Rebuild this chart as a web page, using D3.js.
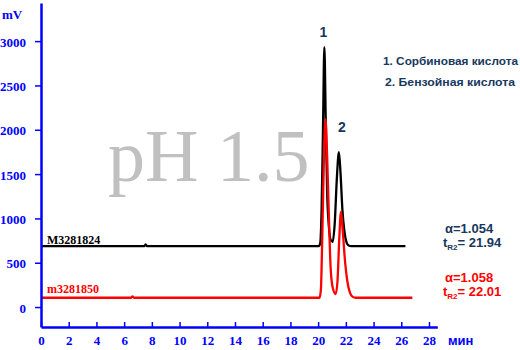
<!DOCTYPE html>
<html><head><meta charset="utf-8">
<script src="https://cdn.jsdelivr.net/npm/d3@7"></script>
<style>body{margin:0;background:#fff;} svg{display:block;}</style>
</head><body>
<svg id="c" width="520" height="350"></svg>
<script>
// ---- data ----
const blackTime   = [0, 7.45, 7.55, 7.65, 20.05, 20.15, 20.25, 20.35, 20.45, 20.55, 20.65, 20.78, 20.9, 21.05, 21.2, 21.35, 21.5, 21.62, 21.75, 21.9, 22.05, 22.2, 22.4, 26.3];
const blackSignal = [688, 688, 708, 688, 688, 720, 1100, 2000, 2932, 2100, 1300, 900, 760, 735, 950, 1450, 1748, 1500, 1100, 850, 730, 695, 688, 688];
const redTime     = [0, 6.5, 6.6, 6.7, 20.1, 20.2, 20.3, 20.42, 20.53, 20.65, 20.78, 20.9, 21.05, 21.27, 21.4, 21.52, 21.65, 21.78, 21.95, 22.1, 22.3, 22.5, 22.7, 26.8];
const redSignal   = [105, 105, 120, 105, 105, 200, 800, 1700, 2120, 1700, 1000, 450, 220, 147, 300, 750, 1075, 850, 500, 300, 160, 115, 105, 105];
const xTicks = [0, 2, 4, 6, 8, 10, 12, 14, 16, 18, 20, 22, 24, 26, 28];
const yTicks = [0, 500, 1000, 1500, 2000, 2500, 3000];
const blackName = "M3281824";
const redName = "m3281850";
const peakLabels = ["1", "2"];
const legendLines = ["1. Сорбиновая кислота", "2. Бензойная  кислота"];
const blackAlpha = "1.054", blackTR2 = "21.94";
const redAlpha = "1.058", redTR2 = "22.01";
const title = "pH 1.5";

const svg = d3.select("#c");
const x = d3.scaleLinear().domain([0, 28.6]).range([41, 437.3]);
const y = d3.scaleLinear().domain([-225, 3430]).range([327, 3]);
const blue = "#0000ff", navy = "#17375e";

// watermark
svg.append("text").attr("x", 108).attr("y", 181)
  .attr("font-family", "Liberation Serif").attr("font-size", 74)
  .attr("fill", "#c0c0c0").text(title);

// traces
const line = d3.line().curve(d3.curveMonotoneX);
const blackPts = blackTime.map((t, i) => [x(t), y(blackSignal[i])]);
const redPts = redTime.map((t, i) => [x(t), y(redSignal[i])]);
svg.append("path").attr("d", line(blackPts)).attr("fill", "none")
  .attr("stroke", "#000").attr("stroke-width", 2.3).attr("stroke-linejoin", "round");
svg.append("path").attr("d", line(redPts)).attr("fill", "none")
  .attr("stroke", "#ff0000").attr("stroke-width", 2.3).attr("stroke-linejoin", "round");

// axes
const gy = svg.append("g").attr("transform", "translate(41,0)")
  .call(d3.axisLeft(y).tickValues(yTicks).tickSizeInner(6).tickSizeOuter(0).tickPadding(9).tickFormat(d3.format("d")));
const gx = svg.append("g").attr("transform", "translate(0,327)")
  .call(d3.axisBottom(x).tickValues(xTicks).tickSizeInner(-5).tickSizeOuter(0).tickPadding(9).tickFormat(d3.format("d")));
[gy, gx].forEach(g => {
  g.select(".domain").attr("stroke", blue).attr("stroke-width", 2.5);
  g.selectAll(".tick line").attr("stroke", blue).attr("stroke-width", 1.5);
  g.selectAll(".tick text").attr("fill", blue).attr("font-family", "Liberation Serif")
    .attr("font-weight", "bold").attr("font-size", 13);
});
gy.selectAll(".tick text").attr("dy", "0.4em");

svg.append("text").attr("x", 2).attr("y", 19).attr("fill", blue)
  .attr("font-family", "Liberation Serif").attr("font-weight", "bold").attr("font-size", 13).text("mV");
svg.append("text").attr("x", 448).attr("y", 345).attr("fill", blue)
  .attr("font-family", "Liberation Sans").attr("font-weight", "bold").attr("font-size", 13).text("мин");

// trace names
svg.append("text").attr("x", 47).attr("y", 244).attr("fill", "#000")
  .attr("font-family", "Liberation Serif").attr("font-weight", "bold").attr("font-size", 12).text(blackName);
svg.append("text").attr("x", 47).attr("y", 293).attr("fill", "#ff0000")
  .attr("font-family", "Liberation Serif").attr("font-weight", "bold").attr("font-size", 12).text(redName);

// peak labels
svg.append("text").attr("x", x(20.45) - 1).attr("y", 37).attr("text-anchor", "middle").attr("fill", navy)
  .attr("font-family", "Liberation Sans").attr("font-weight", "bold").attr("font-size", 14).text(peakLabels[0]);
svg.append("text").attr("x", 342).attr("y", 132).attr("text-anchor", "middle").attr("fill", navy)
  .attr("font-family", "Liberation Sans").attr("font-weight", "bold").attr("font-size", 14).text(peakLabels[1]);

// legend
svg.append("text").attr("x", 383).attr("y", 65).attr("fill", navy)
  .attr("font-family", "Liberation Sans").attr("font-weight", "bold").attr("font-size", 11)
  .attr("textLength", 135).attr("lengthAdjust", "spacingAndGlyphs").text(legendLines[0]);
svg.append("text").attr("x", 385).attr("y", 86).attr("fill", navy)
  .attr("font-family", "Liberation Sans").attr("font-weight", "bold").attr("font-size", 11)
  .attr("textLength", 130).attr("lengthAdjust", "spacingAndGlyphs").text(legendLines[1]);

// annotations
function annot(yA, yT, color, a, t) {
  svg.append("text").attr("x", 445).attr("y", yA).attr("fill", color)
    .attr("font-family", "Liberation Sans").attr("font-weight", "bold").attr("font-size", 13)
    .text("α=" + a);
  const tt = svg.append("text").attr("x", 443).attr("y", yT).attr("fill", color)
    .attr("font-family", "Liberation Sans").attr("font-weight", "bold").attr("font-size", 13);
  tt.append("tspan").text("t");
  tt.append("tspan").attr("font-size", 8).attr("dy", 3).text("R2");
  tt.append("tspan").attr("dy", -3).text("= " + t);
}
annot(233, 247, navy, blackAlpha, blackTR2);
annot(282, 296, "#ff0000", redAlpha, redTR2);
</script>
</body></html>
